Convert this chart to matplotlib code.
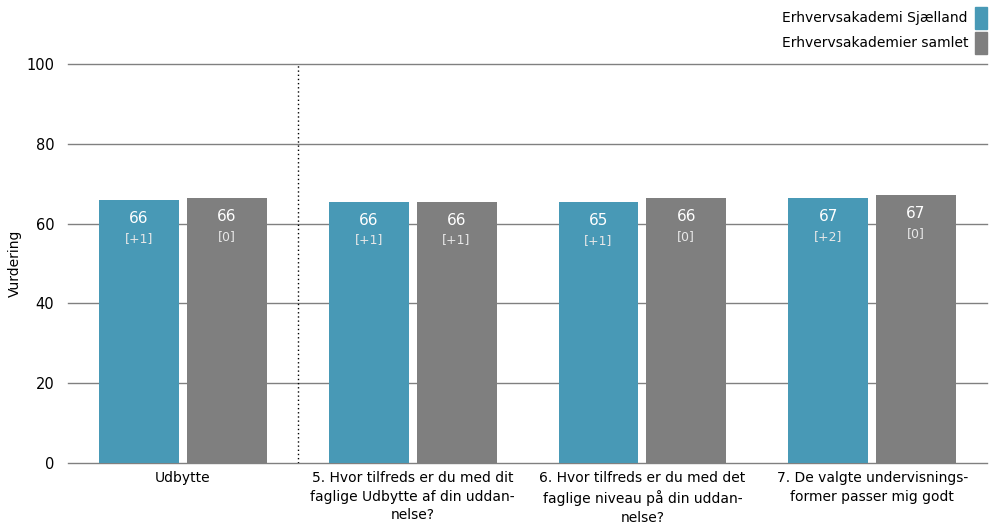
import matplotlib
matplotlib.use("Agg")

import numpy as np
import matplotlib.pyplot as plt
from matplotlib.patches import Rectangle

categories = [
    "Udbytte",
    "5. Hvor tilfreds er du med dit\nfaglige Udbytte af din uddan-\nnelse?",
    "6. Hvor tilfreds er du med det\nfaglige niveau på din uddan-\nnelse?",
    "7. De valgte undervisnings-\nformer passer mig godt",
]
series_names = ["Erhvervsakademi Sjælland", "Erhvervsakademier samlet"]
sjaelland = [65.9, 65.5, 65.4, 66.4]
samlet = [66.4, 65.5, 66.4, 67.2]
sjaelland_labels = ["66", "66", "65", "67"]
samlet_labels = ["66", "66", "66", "67"]
sjaelland_change = ["[+1]", "[+1]", "[+1]", "[+2]"]
samlet_change = ["[0]", "[+1]", "[0]", "[0]"]
yticks = [0, 20, 40, 60, 80, 100]

blue = "#4899b6"
grey = "#7f7f7f"

plt.rcParams['font.family'] = ['DejaVu Sans']

fig = plt.figure(figsize=(9.89, 5.26), dpi=100)
ax = fig.add_axes([0.0688, 0.1198, 0.9292, 0.7585])

x = np.arange(len(categories))
w = 0.348
off = 0.191

# horizontal grid lines (drawn as lines so the 0 line is not clipped)
for t in yticks:
    ax.axhline(t, color="#808080", linewidth=1, zorder=0, clip_on=False)

for vals, labs, chg, color, sign in [
    (sjaelland, sjaelland_labels, sjaelland_change, blue, -1),
    (samlet, samlet_labels, samlet_change, grey, 1),
]:
    ax.bar(x + sign * off, vals, width=w, color=color, zorder=3)
    for xi, v, lab, c in zip(x, vals, labs, chg):
        ax.text(xi + sign * off, v - 4.6, lab, ha="center", va="center",
                color="white", fontsize=11, zorder=4)
        ax.text(xi + sign * off, v - 9.6, c, ha="center", va="center",
                color="#e8e8e8", fontsize=9, zorder=4)

ax.set_xlim(-0.5, 3.5)
ax.set_ylim(0, 100)
ax.set_yticks(yticks)
for s in ax.spines.values():
    s.set_visible(False)
ax.tick_params(axis="y", length=0, labelsize=10.5, pad=10)
ax.tick_params(axis="x", length=0, labelsize=10, pad=6)
ax.set_xticks(x)
ax.set_xticklabels(categories, linespacing=1.4)
ax.set_ylabel("Vurdering", fontsize=10)
ax.yaxis.set_label_coords(-0.050, 0.5)

ax.axvline(0.5, color="black", linestyle=(0, (1, 2)), linewidth=1, zorder=2)

# legend in figure coordinates, top right
W, H = 989, 526
for i, (name, color) in enumerate(zip(series_names, [blue, grey])):
    yc = 18 + 25 * i
    fig.text(968 / W, 1 - yc / H, name, ha="right", va="center", fontsize=10)
    fig.patches.append(Rectangle((975 / W, 1 - (yc + 11) / H), 12 / W, 22 / H,
                                 transform=fig.transFigure, color=color))

fig.savefig("out.png", dpi=100)
